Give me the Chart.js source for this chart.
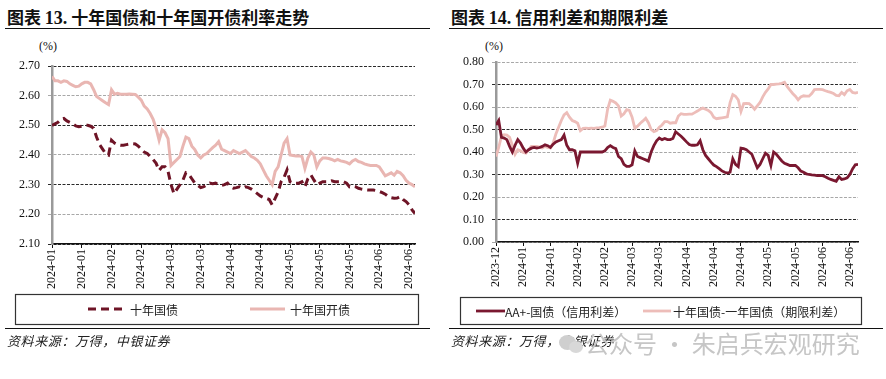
<!DOCTYPE html>
<html><head><meta charset="utf-8">
<script src="https://cdn.jsdelivr.net/npm/chart.js@4.4.1/dist/chart.umd.min.js"></script>
<style>
html,body{margin:0;padding:0;background:#fff;width:886px;height:379px;overflow:hidden;position:relative;}
.abs{position:absolute;white-space:nowrap;}
.title{font-family:"Noto Sans CJK SC";font-weight:700;font-size:17px;color:#111;top:6px;line-height:22px;}
.title .num{font-family:"Liberation Serif";font-weight:700;font-size:18px;}
.rule{position:absolute;height:0;border-top:1.5px solid #111;}
.pct{font-family:"Liberation Serif";font-size:12px;top:39px;color:#111;}
.src{font-family:"Noto Sans CJK SC";font-style:italic;font-size:13px;letter-spacing:0.6px;top:332px;color:#222;line-height:18px;}
.wm{font-family:"Noto Sans CJK SC";font-size:24px;color:#c6c6c6;top:327px;left:585px;line-height:32px;}
.ico{position:absolute;border-radius:50%;background:#cfcfcf;}
canvas{position:absolute;top:0;}
</style></head>
<body>
<div class="abs title" style="left:7px;">图表 <span class="num">13.</span> 十年国债和十年国开债利率走势</div>
<div class="abs title" style="left:451px;">图表 <span class="num">14.</span> 信用利差和期限利差</div>
<div class="rule" style="left:5px;width:425px;top:28px;"></div>
<div class="rule" style="left:449px;width:434px;top:28px;"></div>
<div class="abs pct" style="left:39px;">(%)</div>
<div class="abs pct" style="left:485px;">(%)</div>
<canvas id="c1" width="443" height="379" style="left:0;"></canvas>
<canvas id="c2" width="443" height="379" style="left:443px;"></canvas>
<div class="rule" style="left:5px;width:425px;top:328px;"></div>
<div class="rule" style="left:449px;width:434px;top:328px;"></div>
<div class="abs src" style="left:7px;">资料来源：万得，中银证券</div>
<div class="abs src" style="left:451px;">资料来源：万得，中银证券</div>
<div class="ico" style="left:559px;top:335px;width:17px;height:15px;"></div>
<div class="ico" style="left:569px;top:341px;width:14px;height:12px;background:#d8d8d8;"></div>
<div class="abs wm">公众号 · 朱启兵宏观研究</div>
<script>
// ---------- data ----------
const leftTickLabels = ['2024-01','2024-01','2024-02','2024-02','2024-03','2024-03','2024-04','2024-04','2024-05','2024-05','2024-05','2024-06','2024-06'];
const rightTickLabels = ['2023-12','2024-01','2024-01','2024-02','2024-02','2024-03','2024-03','2024-04','2024-04','2024-04','2024-05','2024-05','2024-06','2024-06'];
const leftSeriesNames = ['十年国债','十年国开债'];
const rightSeriesNames = ['AA+-国债（信用利差）','十年国债-一年国债（期限利差）'];

const cgb10y = [
2.50,2.505,2.51,2.52,2.523,2.515,2.51,2.505,2.498,2.495,
2.497,2.50,2.50,2.497,2.49,2.46,2.435,2.42,2.405,2.40,
2.45,2.44,2.435,2.433,2.433,2.435,2.437,2.438,2.437,2.43,
2.42,2.41,2.405,2.395,2.385,2.372,2.348,2.36,2.36,2.345,
2.30,2.27,2.285,2.30,2.315,2.34,2.335,2.32,2.305,2.298,
2.29,2.293,2.30,2.305,2.303,2.305,2.30,2.297,2.30,2.305,
2.293,2.288,2.29,2.293,2.288,2.293,2.29,2.285,2.278,2.27,
2.262,2.257,2.254,2.25,2.232,2.254,2.275,2.31,2.325,2.35,
2.31,2.305,2.305,2.305,2.31,2.293,2.32,2.333,2.316,2.30,
2.305,2.31,2.31,2.31,2.313,2.31,2.31,2.31,2.31,2.305,
2.293,2.295,2.293,2.288,2.285,2.283,2.282,2.282,2.282,2.28,
2.277,2.273,2.268,2.26,2.256,2.254,2.255,2.26,2.25,2.243,
2.232,2.215,2.203];
const cdb10y = [
2.665,2.65,2.65,2.645,2.65,2.648,2.64,2.635,2.63,2.632,
2.64,2.645,2.645,2.64,2.62,2.597,2.59,2.583,2.576,2.57,
2.62,2.605,2.608,2.605,2.605,2.605,2.606,2.605,2.604,2.595,
2.585,2.565,2.555,2.54,2.52,2.49,2.45,2.485,2.475,2.455,
2.365,2.375,2.385,2.395,2.43,2.46,2.455,2.43,2.418,2.40,
2.39,2.40,2.405,2.415,2.425,2.433,2.445,2.42,2.415,2.41,
2.405,2.415,2.41,2.405,2.41,2.415,2.405,2.395,2.39,2.382,
2.37,2.35,2.33,2.315,2.30,2.345,2.36,2.40,2.44,2.455,
2.40,2.398,2.397,2.397,2.395,2.355,2.39,2.41,2.40,2.36,
2.38,2.39,2.39,2.388,2.385,2.38,2.385,2.38,2.378,2.375,
2.37,2.38,2.385,2.378,2.375,2.37,2.367,2.365,2.365,2.365,
2.36,2.345,2.33,2.335,2.34,2.332,2.345,2.34,2.33,2.315,
2.305,2.30,2.293];
const creditSpread = [
0.52,0.54,0.465,0.462,0.455,0.425,0.40,0.43,0.455,0.44,
0.417,0.40,0.41,0.417,0.42,0.417,0.42,0.425,0.432,0.428,
0.42,0.435,0.445,0.45,0.455,0.475,0.43,0.41,0.41,0.405,
0.35,0.40,0.40,0.40,0.40,0.40,0.40,0.40,0.40,0.40,
0.405,0.42,0.428,0.42,0.415,0.38,0.37,0.345,0.336,0.336,
0.343,0.405,0.38,0.375,0.37,0.365,0.36,0.40,0.428,0.45,
0.462,0.455,0.46,0.455,0.455,0.46,0.49,0.48,0.47,0.458,
0.445,0.433,0.43,0.43,0.432,0.45,0.41,0.385,0.37,0.355,
0.342,0.335,0.326,0.316,0.31,0.306,0.31,0.37,0.345,0.335,
0.417,0.415,0.41,0.40,0.39,0.36,0.33,0.345,0.37,0.395,
0.385,0.34,0.40,0.39,0.375,0.36,0.35,0.345,0.34,0.34,
0.34,0.33,0.315,0.31,0.303,0.30,0.298,0.297,0.295,0.296,
0.295,0.29,0.283,0.278,0.274,0.27,0.29,0.278,0.28,0.285,
0.30,0.325,0.343,0.345];
const termSpread = [
0.38,0.42,0.47,0.477,0.475,0.465,0.43,0.39,0.41,0.405,
0.398,0.395,0.41,0.425,0.425,0.425,0.422,0.418,0.425,0.42,
0.418,0.44,0.48,0.51,0.54,0.565,0.575,0.555,0.54,0.535,
0.528,0.495,0.505,0.506,0.505,0.506,0.505,0.507,0.508,0.51,
0.515,0.59,0.63,0.625,0.618,0.605,0.56,0.57,0.588,0.585,
0.555,0.506,0.515,0.528,0.538,0.55,0.53,0.50,0.49,0.495,
0.51,0.52,0.535,0.535,0.528,0.53,0.53,0.56,0.57,0.567,
0.567,0.568,0.568,0.575,0.582,0.59,0.595,0.59,0.585,0.575,
0.555,0.548,0.55,0.552,0.554,0.556,0.62,0.655,0.648,0.632,
0.58,0.615,0.616,0.615,0.605,0.59,0.605,0.62,0.645,0.665,
0.68,0.70,0.70,0.702,0.703,0.705,0.71,0.69,0.675,0.66,
0.648,0.632,0.645,0.65,0.648,0.648,0.66,0.677,0.678,0.678,
0.677,0.672,0.668,0.665,0.66,0.652,0.65,0.665,0.655,0.672,
0.678,0.665,0.662,0.665];

// ---------- helpers ----------
const toXY = arr => arr.map((v, i) => ({x: i, y: v}));
const TICK_FONT = {family: 'Liberation Serif', size: 12};

const boxLegend = {
  id: 'boxLegend',
  afterDraw(chart, args, o) {
    const ctx = chart.ctx;
    ctx.save();
    ctx.strokeStyle = o.borderColor;
    ctx.lineWidth = o.borderWidth;
    ctx.strokeRect(o.box[0], o.box[1], o.box[2], o.box[3]);
    ctx.font = o.font;
    ctx.textBaseline = 'middle';
    ctx.textAlign = 'left';
    chart.data.datasets.forEach((ds, i) => {
      const it = o.items[i];
      ctx.beginPath();
      ctx.setLineDash(ds.borderDash || []);
      ctx.strokeStyle = ds.borderColor;
      ctx.lineWidth = ds.borderWidth;
      ctx.moveTo(it.x, o.y);
      ctx.lineTo(it.x + it.len, o.y);
      ctx.stroke();
      ctx.setLineDash([]);
      ctx.fillStyle = '#222';
      ctx.fillText(ds.label, it.tx, o.y + 1);
    });
    ctx.restore();
  }
};

function makeChart(id, datasets, xMax, tickLabels, yMin, yMax, pad, yWidth, darkParity, legendCfg) {
  return new Chart(document.getElementById(id), {
    type: 'line',
    data: {datasets},
    plugins: [boxLegend],
    options: {
      responsive: false,
      animation: false,
      devicePixelRatio: 1,
      layout: {padding: pad},
      elements: {point: {radius: 0}, line: {tension: 0}},
      plugins: {legend: {display: false}, tooltip: {enabled: false}, boxLegend: legendCfg},
      scales: {
        x: {
          type: 'linear', min: 0, max: xMax,
          afterFit: s => { s.height = 46; },
          ticks: {
            stepSize: 10, includeBounds: false, autoSkip: false, maxTicksLimit: 30,
            minRotation: 90, maxRotation: 90, padding: 1, color: '#111', font: TICK_FONT,
            callback: v => tickLabels[Math.round(v / 10)]
          },
          grid: {drawOnChartArea: false, drawTicks: true, tickLength: 4, color: '#111', lineWidth: 1},
          border: {display: true, color: '#111', width: 1.5}
        },
        y: {
          min: yMin, max: yMax,
          afterFit: s => { s.width = yWidth; },
          ticks: {stepSize: 0.1, padding: 8, color: '#111', font: TICK_FONT, callback: v => Number(v).toFixed(2)},
          grid: {
            color: c => (c.index % 2 === darkParity ? '#2a2a2a' : '#a8a8a8'),
            lineWidth: 1, tickLength: 4, drawTicks: true
          },
          border: {display: true, color: '#9a9a9a', width: 2.5, dash: [3, 1.5]}
        }
      }
    }
  });
}

makeChart('c1', [
  {label: leftSeriesNames[0], data: toXY(cgb10y), borderColor: '#6e1426', borderWidth: 3, borderDash: [8, 5]},
  {label: leftSeriesNames[1], data: toXY(cdb10y), borderColor: '#e9b6b2', borderWidth: 3}
], cgb10y.length - 1, leftTickLabels, 2.10, 2.70, {top: 66, left: 0, right: 28, bottom: 89}, 52, 0, {
  box: [15.5, 294.5, 403, 30], y: 309, borderColor: '#333', borderWidth: 1.2,
  font: '12px "Noto Sans CJK SC"',
  items: [{x: 88, len: 37, tx: 130}, {x: 250, len: 35, tx: 290}]
});

makeChart('c2', [
  {label: rightSeriesNames[0], data: toXY(creditSpread), borderColor: '#7a1830', borderWidth: 2.8},
  {label: rightSeriesNames[1], data: toXY(termSpread), borderColor: '#edbdb9', borderWidth: 2.8}
], creditSpread.length - 1, rightTickLabels, 0, 0.8, {top: 62, left: 0, right: 28, bottom: 91}, 53, 1, {
  box: [17.5, 297.5, 401, 27], y: 311, borderColor: '#333', borderWidth: 1.2,
  font: '12px "Noto Sans CJK SC"',
  items: [{x: 33, len: 29, tx: 62}, {x: 200, len: 28, tx: 230}]
});
</script>
</body></html>
